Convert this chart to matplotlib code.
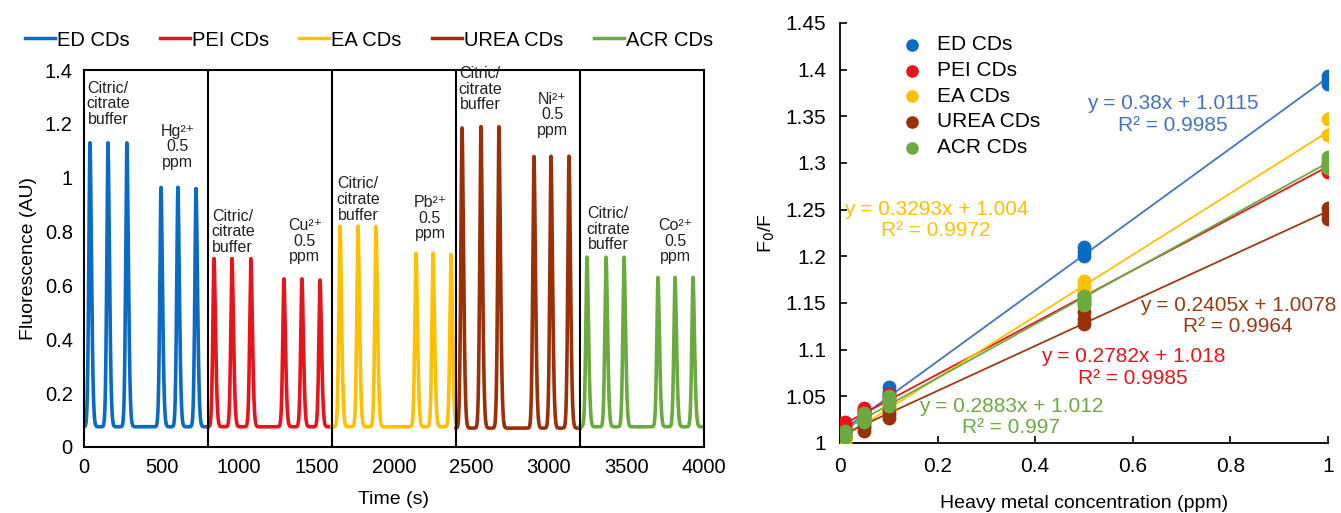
import numpy as np
import matplotlib
matplotlib.use("Agg")
import matplotlib.pyplot as plt
from matplotlib.lines import Line2D

plt.rcParams['font.family'] = ['Liberation Sans', 'DejaVu Sans']

# ---- data: left panel (flow injection peaks) ----
cd_names = ['ED CDs', 'PEI CDs', 'EA CDs', 'UREA CDs', 'ACR CDs']
colors = ['#0A6BC4', '#E8141B', '#FFC000', '#9A3008', '#6AAA3E']
fit_colors = ['#4472C4', '#E8141B', '#FFC000', '#9A3B14', '#6AAA3E']
segments = [(0, 800), (800, 1600), (1600, 2400), (2400, 3200), (3200, 4000)]
baseline = [0.075, 0.075, 0.075, 0.07, 0.075]
peak_times = [
    [39, 155, 277, 497, 606, 723],
    [839, 955, 1077, 1290, 1406, 1523],
    [1652, 1768, 1884, 2142, 2252, 2368],
    [2439, 2561, 2677, 2903, 3013, 3129],
    [3245, 3368, 3484, 3703, 3813, 3929],
]
peak_heights = [
    [1.13, 1.13, 1.13, 0.965, 0.965, 0.96],
    [0.70, 0.70, 0.70, 0.625, 0.625, 0.62],
    [0.82, 0.82, 0.82, 0.72, 0.72, 0.715],
    [1.185, 1.19, 1.19, 1.08, 1.08, 1.08],
    [0.705, 0.705, 0.705, 0.63, 0.63, 0.63],
]
metals = ['Hg\u00b2\u207a', 'Cu\u00b2\u207a', 'Pb\u00b2\u207a', 'Ni\u00b2\u207a', 'Co\u00b2\u207a']
buffer_label_pos = [(155, 1.36), (960, 0.885), (1768, 1.005), (2555, 1.415), (3380, 0.895)]
metal_label_pos = [(606, 1.2), (1425, 0.85), (2232, 0.935), (3020, 1.32), (3813, 0.85)]

# ---- data: right panel (calibration) ----
conc = [0.01, 0.05, 0.1, 0.5, 1.0]
ratio_ed = [[1.012, 1.015, 1.018], [1.028, 1.031, 1.034], [1.05, 1.055, 1.06], [1.2, 1.205, 1.21], [1.385, 1.389, 1.393]]
ratio_pei = [[1.018, 1.02, 1.022], [1.03, 1.034, 1.037], [1.045, 1.048, 1.052], [1.15, 1.155, 1.16], [1.29, 1.295, 1.3]]
ratio_ea = [[1.0, 1.003, 1.006], [1.018, 1.02, 1.024], [1.035, 1.038, 1.042], [1.162, 1.168, 1.174], [1.33, 1.33, 1.347]]
ratio_urea = [[1.006, 1.009, 1.012], [1.013, 1.017, 1.021], [1.027, 1.031, 1.035], [1.127, 1.133, 1.14], [1.24, 1.245, 1.252]]
ratio_acr = [[1.006, 1.01, 1.013], [1.022, 1.027, 1.032], [1.04, 1.045, 1.05], [1.148, 1.153, 1.158], [1.295, 1.3, 1.306]]
ratios = [ratio_ed, ratio_pei, ratio_ea, ratio_urea, ratio_acr]
slopes = [0.38, 0.2782, 0.3293, 0.2405, 0.2883]
intercepts = [1.0115, 1.018, 1.004, 1.0078, 1.012]
r2 = ['0.9985', '0.9985', '0.9972', '0.9964', '0.997']
eq_pos = [(0.682, 1.352), (0.60, 1.081), (0.197, 1.239), (0.816, 1.136), (0.35, 1.028)]

fig = plt.figure(figsize=(13.41, 5.13), dpi=100)

# left panel
ax1 = fig.add_axes([0.0626, 0.1287, 0.4624, 0.7348])
for i in range(5):
    t0, t1 = segments[i]
    t = np.linspace(t0, t1, 1600)
    y = np.full_like(t, baseline[i])
    for tp, h in zip(peak_times[i], peak_heights[i]):
        w = np.where(t < tp, 11.0, 14.0)
        y = y + (h - baseline[i]) * np.exp(-(np.abs(t - tp) / w) ** 1.7)
    ax1.plot(t, y, color=colors[i], lw=2.6)
    if i > 0:
        ax1.axvline(t0, color='black', lw=1.5)
    bx, by = buffer_label_pos[i]
    ax1.text(bx, by, 'Citric/\ncitrate\nbuffer', ha='center', va='top', fontsize=11.5,
             linespacing=1.05, color='#222222')
    mx, my = metal_label_pos[i]
    ax1.text(mx, my, metals[i] + '\n0.5\nppm', ha='center', va='top', fontsize=11.5,
             linespacing=1.05, color='#222222')
ax1.set_xlim(0, 4000)
ax1.set_ylim(0, 1.4)
ax1.set_xticks(np.arange(0, 4001, 500))
ax1.set_yticks([0, 0.2, 0.4, 0.6, 0.8, 1.0, 1.2, 1.4])
ax1.set_yticklabels(['0', '0.2', '0.4', '0.6', '0.8', '1', '1.2', '1.4'])
ax1.tick_params(length=0, labelsize=14.5, pad=8)
for s in ax1.spines.values():
    s.set_linewidth(1.5)
ax1.set_xlabel('Time (s)', fontsize=14, labelpad=10)
ax1.set_ylabel('Fluorescence (AU)', fontsize=14, labelpad=6)

handles = [Line2D([0], [0], color=c, lw=2.5) for c in colors]
fig.legend(handles, cd_names, loc='center', bbox_to_anchor=(0.275, 0.922), ncol=5,
           frameon=False, fontsize=14.5, handlelength=1.5, handletextpad=0.1,
           columnspacing=1.5)

# right panel
ax2 = fig.add_axes([0.6264, 0.1365, 0.3638, 0.8187])
for i in range(5):
    xs = np.repeat(conc, 3)
    ys = np.array(ratios[i]).ravel()
    ax2.scatter(xs, ys, s=80, color=colors[i], zorder=3, label=cd_names[i])
    xf = np.array([conc[0], conc[-1]])
    ax2.plot(xf, slopes[i] * xf + intercepts[i], color=fit_colors[i], lw=1.3, zorder=2)
    ex, ey = eq_pos[i]
    ax2.text(ex, ey, f'y = {slopes[i]:g}x + {intercepts[i]:g}\nR\u00b2 = {r2[i]}',
             ha='center', va='center', fontsize=15, color=fit_colors[i],
             linespacing=1.15, zorder=4, clip_on=False)
ax2.set_xlim(0, 1)
ax2.set_ylim(1, 1.45)
ax2.set_xticks([0, 0.2, 0.4, 0.6, 0.8, 1.0])
ax2.set_xticklabels(['0', '0.2', '0.4', '0.6', '0.8', '1'])
ax2.set_yticks(np.arange(1.0, 1.451, 0.05))
ax2.set_yticklabels(['1', '1.05', '1.1', '1.15', '1.2', '1.25', '1.3', '1.35', '1.4', '1.45'])
ax2.spines['top'].set_visible(False)
ax2.spines['right'].set_visible(False)
ax2.spines['left'].set_linewidth(1.3)
ax2.spines['bottom'].set_linewidth(1.3)
ax2.tick_params(direction='in', length=5, width=1.2, labelsize=15, pad=10)
ax2.set_xlabel('Heavy metal concentration (ppm)', fontsize=14, labelpad=14)
ax2.set_ylabel('F$_0$/F', fontsize=14, labelpad=6)
ax2.legend(loc='upper left', bbox_to_anchor=(0.08, 1.0), frameon=False, fontsize=15,
           handletextpad=0.2, labelspacing=0.32, borderaxespad=0.2, scatterpoints=1,
           markerscale=0.9)

fig.savefig('out.png', dpi=100)
